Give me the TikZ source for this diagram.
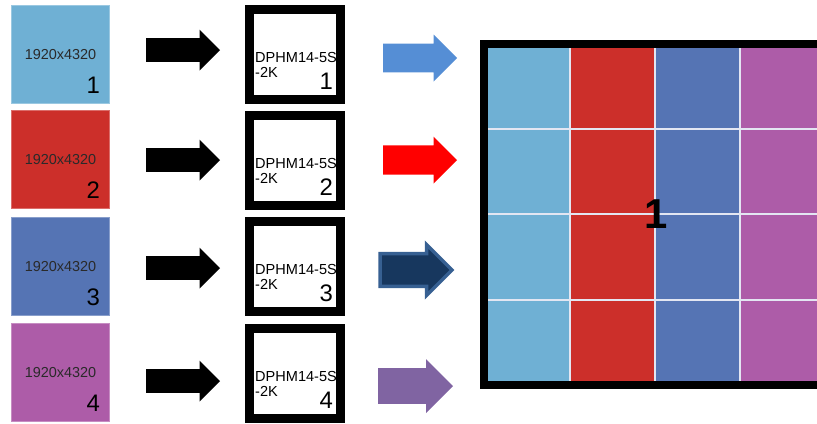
\documentclass[tikz,border=0pt]{standalone}
\usepackage{fontspec}
\setmainfont{Liberation Sans}
\usetikzlibrary{shapes.arrows,positioning,calc}
\definecolor{srcblue}{HTML}{6FB0D4}
\definecolor{srcred}{HTML}{CC2F2A}
\definecolor{srcnavy}{HTML}{5574B4}
\definecolor{srcpurple}{HTML}{AD5CA8}
\definecolor{arrblue}{HTML}{558ED5}
\definecolor{arrred}{HTML}{FF0000}
\definecolor{arrnavy}{HTML}{17375E}
\definecolor{arrnavyline}{HTML}{376092}
\definecolor{arrpurple}{HTML}{8064A2}
\definecolor{gridline}{HTML}{E3E6F2}
\definecolor{txtgray}{HTML}{2A2A2A}
\tikzset{
  srcbox/.style={fill=#1,draw=#1!70!white,line width=1bp,
                 minimum width=98bp,minimum height=98bp,inner sep=0pt,
                 font=\fontsize{14.5}{15}\selectfont,text=txtgray},
  srcnum/.style={anchor=south east,inner sep=0pt,xshift=-10bp,yshift=10bp,
                 font=\fontsize{24}{24}\selectfont,text=black},
  devbox/.style={draw=black,fill=white,line width=9bp,
                 minimum width=91bp,minimum height=90bp,inner sep=0pt},
  devtext/.style={anchor=west,inner sep=0pt,font=\fontsize{14.6}{15}\selectfont},
  devnum/.style={anchor=south east,inner sep=0pt,font=\fontsize{24}{24}\selectfont},
  blockarr/.style n args={3}{single arrow,anchor=tail,draw=none,
                 minimum height=#1,minimum width=#2,
                 inner xsep=0pt,inner ysep=#3,outer sep=0pt},
  gridln/.style={draw=gridline,line width=1.5bp},
  dispbox/.style={draw=black,line width=8bp,minimum width=344bp,minimum height=341bp,
                  inner sep=0pt,font=\fontsize{42}{42}\selectfont\bfseries}
}
\begin{document}
\begin{tikzpicture}[x=1bp,y=-1bp]
  \useasboundingbox (0,0) rectangle (817,423);
  \clip (0,0) rectangle (817,423);
  % sources
  \node[srcbox=srcblue,label={[srcnum]south east:1}] (src1) at (60.5,54.5) {1920x4320};
  \node[srcbox=srcred,label={[srcnum]south east:2}] (src2) at (60.5,159.5) {1920x4320};
  \node[srcbox=srcnavy,label={[srcnum]south east:3}] (src3) at (60.5,266.5) {1920x4320};
  \node[srcbox=srcpurple,label={[srcnum]south east:4}] (src4) at (60.5,372.5) {1920x4320};
  % black arrows
  \node[blockarr={74bp}{41bp}{9.5bp},fill=black] (in1) at (146,50) {};
  \node[blockarr={74bp}{41bp}{9.5bp},fill=black] (in2) at (146,160) {};
  \node[blockarr={74bp}{41bp}{9.5bp},fill=black] (in3) at (146,268) {};
  \node[blockarr={74bp}{41bp}{9.5bp},fill=black] (in4) at (146,381) {};
  % devices
  \node[devbox] (dev1) at (295,54.5) {};
  \node[devbox] (dev2) at (295,160.5) {};
  \node[devbox] (dev3) at (295,266.5) {};
  \node[devbox] (dev4) at (295,373.5) {};
  \node[devtext] (dev1a) at ($(dev1.north west)+(10,52)$) {DPHM14-5S};
  \node[devtext] (dev1b) at ($(dev1.north west)+(10,67)$) {-2K};
  \node[devnum] (dev1n) at ($(dev1.south east)+(-12,-14)$) {1};
  \node[devtext] (dev2a) at ($(dev2.north west)+(10,52)$) {DPHM14-5S};
  \node[devtext] (dev2b) at ($(dev2.north west)+(10,67)$) {-2K};
  \node[devnum] (dev2n) at ($(dev2.south east)+(-12,-14)$) {2};
  \node[devtext] (dev3a) at ($(dev3.north west)+(10,52)$) {DPHM14-5S};
  \node[devtext] (dev3b) at ($(dev3.north west)+(10,67)$) {-2K};
  \node[devnum] (dev3n) at ($(dev3.south east)+(-12,-14)$) {3};
  \node[devtext] (dev4a) at ($(dev4.north west)+(10,52)$) {DPHM14-5S};
  \node[devtext] (dev4b) at ($(dev4.north west)+(10,67)$) {-2K};
  \node[devnum] (dev4n) at ($(dev4.south east)+(-12,-14)$) {4};
  % coloured arrows
  \node[blockarr={74bp}{47bp}{11bp},fill=arrblue] (out1) at (383,58) {};
  \node[blockarr={74bp}{47bp}{11.5bp},fill=arrred] (out2) at (383,160) {};
  \node[blockarr={72bp}{51bp}{11bp},fill=arrnavy,draw=arrnavyline,line width=3.5bp] (out3) at (380,270) {};
  \node[blockarr={75bp}{54bp}{13.5bp},fill=arrpurple] (out4) at (378,386) {};
  % display wall
  \fill[srcblue] (488,48) rectangle (570,382);
  \fill[srcred] (570,48) rectangle (655,382);
  \fill[srcnavy] (655,48) rectangle (740,382);
  \fill[srcpurple] (740,48) rectangle (824,382);
  \draw[gridln] (488,129) -- (824,129);
  \draw[gridln] (488,214) -- (824,214);
  \draw[gridln] (488,300) -- (824,300);
  \draw[gridln] (570,48) -- (570,382);
  \draw[gridln] (655,48) -- (655,382);
  \draw[gridln] (740,48) -- (740,382);
  \node[dispbox] (disp) at (656,214.5) {1};
\end{tikzpicture}
\end{document}
